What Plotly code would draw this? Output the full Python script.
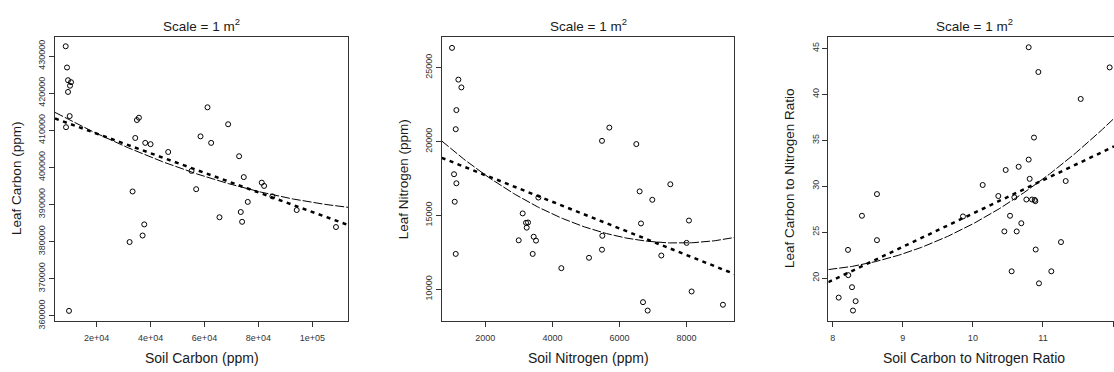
import numpy as np
import plotly.graph_objects as go

# ---------------- data ----------------
soil_c = [8519, 9012, 9383, 10494, 10123, 9383, 10000, 8642, 9753, 35679, 34938, 34321,
          38025, 40000, 46543, 33333, 37654, 37037, 32222, 55185, 56914, 58519, 61111,
          62469, 68765, 65556, 72840, 74568, 76049, 73457, 73951, 81235, 82099, 85185,
          94198, 108765]
leaf_c = [432640, 426920, 423490, 422960, 422000, 420330, 413820, 410830, 361310, 413380,
          412760, 407920, 406600, 406250, 404140, 393500, 384620, 381630, 379870, 399040,
          394120, 408360, 416190, 406600, 411620, 386550, 403000, 397370, 390690, 387960,
          385320, 395880, 395000, 392180, 388490, 383910]

soil_n = [1006, 1195, 1285, 1136, 1116, 1066, 1136, 1086, 1116, 3113, 3212, 3272, 3232,
          2994, 3441, 3510, 3411, 3580, 4265, 5090, 5477, 5487, 5477, 5696, 6500, 6600,
          6977, 6640, 6700, 6839, 7246, 7515, 8000, 8070, 8149, 9083]
leaf_n = [26338, 24189, 23662, 22127, 20833, 17785, 17171, 15921, 12390, 15132, 14496,
          14518, 14167, 13311, 13553, 13289, 12390, 16206, 11425, 12127, 12675, 13618,
          20044, 20943, 19825, 16623, 16053, 14452, 9123, 8553, 12281, 17105, 13136,
          14649, 9846, 8947]

soil_cn = [8.086, 8.290, 8.328, 8.276, 8.223, 8.219, 8.418, 8.632, 8.632, 9.859, 10.140,
           10.363, 10.468, 10.449, 10.530, 10.592, 10.653, 10.625, 10.691, 10.553, 10.763,
           10.796, 10.796, 10.810, 10.844, 10.872, 10.882, 10.891, 10.896, 10.934, 10.943,
           11.119, 11.257, 11.324, 11.538, 11.951]
leaf_cn = [17.88, 16.47, 17.49, 19.01, 20.32, 23.07, 26.78, 24.13, 29.14, 26.71, 30.13,
           28.93, 31.76, 25.08, 26.78, 28.79, 32.11, 25.08, 25.97, 20.74, 28.55, 45.11,
           32.89, 30.80, 28.55, 35.29, 28.51, 28.37, 23.11, 42.42, 19.43, 20.74, 23.92,
           30.56, 39.49, 42.92]

panel_title = "Scale = 1 m<sup>2</sup>"
x_titles = ["Soil Carbon (ppm)", "Soil Nitrogen (ppm)", "Soil Carbon to Nitrogen Ratio"]
y_titles = ["Leaf Carbon (ppm)", "Leaf Nitrogen (ppm)", "Leaf Carbon to Nitrogen Ratio"]

x_ticks = [[20000, 40000, 60000, 80000, 100000], [2000, 4000, 6000, 8000], [8, 9, 10, 11, 12]]
x_ticklabels = [["2e+04", "4e+04", "6e+04", "8e+04", "1e+05"],
                ["2000", "4000", "6000", "8000"], ["8", "9", "10", "11", "12"]]
y_ticks = [[360000, 370000, 380000, 390000, 400000, 410000, 420000, 430000],
           [10000, 15000, 20000, 25000], [20, 25, 30, 35, 40, 45]]
y_ticklabels = [[str(v) for v in y_ticks[0]], [str(v) for v in y_ticks[1]],
                [str(v) for v in y_ticks[2]]]

# ---------------- layout geometry ----------------
W, H = 1114, 372
xs = [(55, 348), (441.7, 734.3), (828.3, 1114)]
ybox = (37.7, 328)
x_ranges = [(4556, 113222), (698, 9422), (7.938, 12.013)]
y_ranges = [(358600, 435170), (7851, 27083), (15.34, 46.24)]
full_centers = [201.5, 588, 974]
ytitle_x = [17, 404.3, 790]

datasets = [(soil_c, leaf_c), (soil_n, leaf_n), (soil_cn, leaf_cn)]

fig = go.Figure()
ink = "#1a1a1a"
FONT = "Liberation Sans"
for i, (xv, yv) in enumerate(datasets):
    ax = "" if i == 0 else str(i + 1)
    xa, ya = "x" + ax, "y" + ax
    xarr = np.array(xv, float)
    yarr = np.array(yv, float)
    grid = np.linspace(x_ranges[i][0], x_ranges[i][1], 200)
    lin = np.polyval(np.polyfit(xarr, yarr, 1), grid)
    quad = np.polyval(np.polyfit(xarr, yarr, 2), grid)
    fig.add_trace(go.Scatter(x=grid, y=quad, mode="lines", xaxis=xa, yaxis=ya,
                             line=dict(color="black", width=1, dash="9px,2px"),
                             showlegend=False, hoverinfo="skip"))
    fig.add_trace(go.Scatter(x=grid, y=lin, mode="lines", xaxis=xa, yaxis=ya,
                             line=dict(color="black", width=2.5, dash="4px,4.5px"),
                             showlegend=False, hoverinfo="skip"))
    fig.add_trace(go.Scatter(x=xv, y=yv, mode="markers", xaxis=xa, yaxis=ya,
                             marker=dict(symbol="circle-open", size=5, color="black",
                                         line=dict(width=1, color="black")),
                             showlegend=False))
    common = dict(showgrid=False, zeroline=False, showline=True, linecolor="#333",
                  linewidth=1, ticks="outside", ticklen=5, tickcolor="#333",
                  tickfont=dict(size=9, color="#333", family=FONT))
    fig.layout["xaxis" + ax] = dict(
        domain=[xs[i][0] / W, xs[i][1] / W], range=list(x_ranges[i]),
        anchor=ya, mirror=True, tickvals=x_ticks[i], ticktext=x_ticklabels[i],
        ticklabelstandoff=3, **common)
    fig.layout["yaxis" + ax] = dict(
        domain=[1 - ybox[1] / H, 1 - ybox[0] / H], range=list(y_ranges[i]),
        anchor=xa, mirror=(i < 2), tickvals=y_ticks[i], ticktext=y_ticklabels[i],
        tickangle=-90, **common)
    fig.add_annotation(text=panel_title, x=full_centers[i] / W, y=1 - 26 / H,
                       xref="paper", yref="paper", showarrow=False,
                       xanchor="center", yanchor="middle",
                       font=dict(size=13.5, color=ink, family=FONT))
    fig.add_annotation(text=x_titles[i], x=full_centers[i] / W, y=1 - 366 / H,
                       xref="paper", yref="paper", showarrow=False,
                       xanchor="center", yanchor="middle",
                       font=dict(size=14, color=ink, family=FONT))
    fig.add_annotation(text=y_titles[i], x=ytitle_x[i] / W, y=1 - ((ybox[0] + ybox[1]) / 2) / H,
                       xref="paper", yref="paper", showarrow=False, textangle=-90,
                       xanchor="center", yanchor="middle",
                       font=dict(size=13.5, color=ink, family=FONT))

fig.update_layout(width=W, height=H, margin=dict(l=0, r=0, t=0, b=0),
                  paper_bgcolor="white", plot_bgcolor="white")
fig.write_html("out.html")
